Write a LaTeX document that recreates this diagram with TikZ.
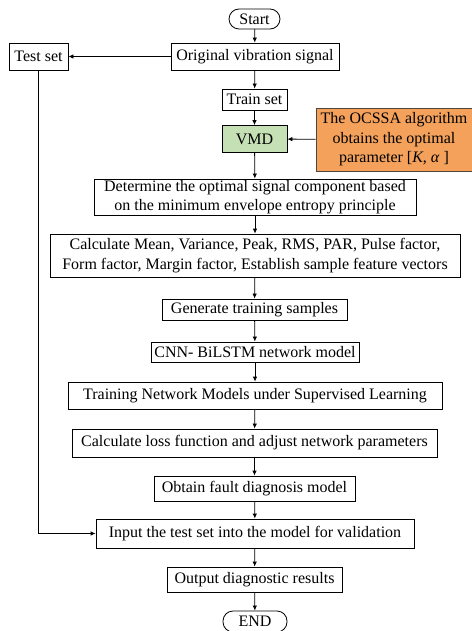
\documentclass[tikz,border=0pt]{standalone}
\usepackage{fontspec}
\setmainfont{Liberation Serif}
\usetikzlibrary{arrows.meta}
\definecolor{vmdgreen}{RGB}{197,224,180}
\definecolor{ocorange}{RGB}{244,161,92}
\definecolor{ocborder}{RGB}{80,70,60}
\tikzset{
  box/.style={draw, line width=0.8pt, inner sep=0pt, align=center,
    font=\fontsize{16}{19.5}\selectfont},
  term/.style={box, rounded corners=10pt},
  flow/.style={line width=0.8pt, -{Latex[length=5pt,width=4.5pt]}}
}
\begin{document}
\begin{tikzpicture}[x=1pt,y=-1pt]
\useasboundingbox (0,0) rectangle (471,631);
% main column of steps
\node[term, minimum width=51pt, minimum height=20pt] (start) at (254.5,19) {Start};
\node[box, minimum width=168pt, minimum height=27pt] (orig) at (255,56.5) {Original vibration signal};
\node[box, minimum width=59pt, minimum height=27pt] (test) at (38.5,56.5) {Test set};
\node[box, minimum width=65pt, minimum height=21pt] (train) at (254.5,99.5) {Train set};
\node[box, fill=vmdgreen, minimum width=65pt, minimum height=27pt] (vmd) at (254.5,139) {VMD};
\node[box, fill=ocorange, draw=ocborder, minimum width=156pt, minimum height=63pt] (ocssa) at (394,139.5)
  {The OCSSA algorithm\\obtains the optimal\\parameter [\textit{K}, \textit{α} ]};
\node[box, minimum width=322pt, minimum height=36pt] (det) at (255,197)
  {Determine the optimal signal component based\\on the minimum envelope entropy principle};
\node[box, minimum width=410pt, minimum height=43pt] (calc) at (255,255.5)
  {Calculate Mean, Variance, Peak, RMS, PAR, Pulse factor,\\Form factor, Margin factor, Establish sample feature vectors};
\node[box, minimum width=185pt, minimum height=21pt] (gen) at (254.5,309.5) {Generate training samples};
\node[box, minimum width=208pt, minimum height=20pt] (cnn) at (255,352) {CNN- BiLSTM network model};
\node[box, minimum width=374pt, minimum height=27pt] (sup) at (255,395.5) {Training Network Models under Supervised Learning};
\node[box, minimum width=365pt, minimum height=28pt] (loss) at (254.5,443) {Calculate loss function and adjust network parameters};
\node[box, minimum width=201pt, minimum height=25pt] (model) at (254.5,488.5) {Obtain fault diagnosis model};
\node[box, minimum width=318pt, minimum height=29pt] (valid) at (255,533.5) {Input the test set into the model for validation};
\node[box, minimum width=175pt, minimum height=25pt] (result) at (254.5,579.5) {Output diagnostic results};
\node[term, minimum width=64pt, minimum height=21pt] (end) at (255,621.5) {END};
% connectors
\foreach \a/\b in {start/orig, orig/train, train/vmd, vmd/det, det/calc, calc/gen,
                   gen/cnn, cnn/sup, sup/loss, loss/model, model/valid, valid/result, result/end}
  \draw[flow] (\a) -- (\b);
\draw[flow] (orig) -- (test);
\draw[flow] (ocssa) -- (vmd);
\draw[flow] (test.south) |- (valid.west);
\end{tikzpicture}
\end{document}
